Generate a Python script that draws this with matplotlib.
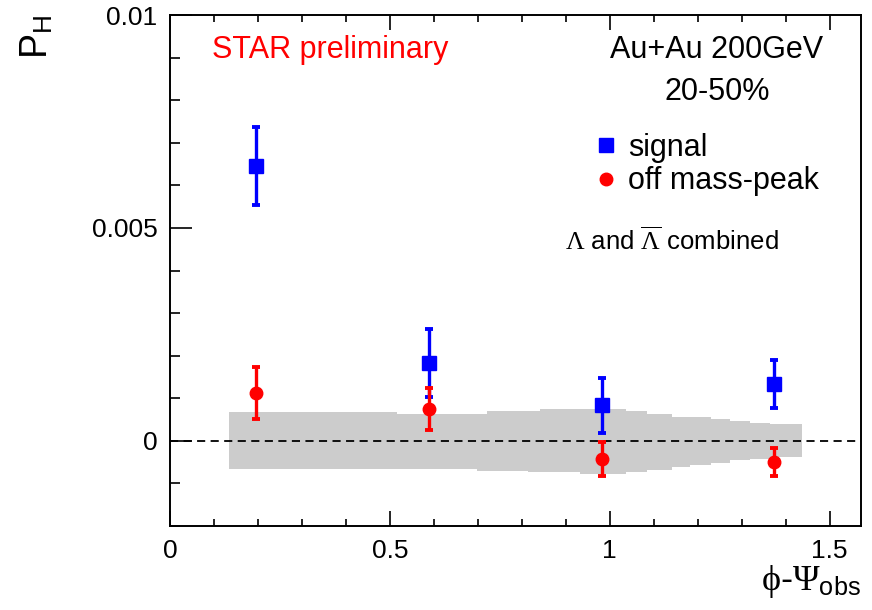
import matplotlib
matplotlib.use("Agg")
import matplotlib.pyplot as plt
from matplotlib.lines import Line2D
from matplotlib.ticker import MultipleLocator, FixedFormatter, FixedLocator

plt.rcParams["font.family"] = ["Liberation Sans", "DejaVu Sans"]
plt.rcParams["mathtext.fontset"] = "custom"
plt.rcParams["mathtext.rm"] = "Liberation Serif"
plt.rcParams["mathtext.it"] = "Liberation Serif"
plt.rcParams["mathtext.sf"] = "Liberation Sans"

# phi - Psi_obs bin centres
phi_bins = [0.196, 0.589, 0.982, 1.374]
# Lambda polarisation, signal region
sig = [6.45e-3, 1.83e-3, 0.83e-3, 1.33e-3]
sig_err = [0.92e-3, 0.79e-3, 0.64e-3, 0.56e-3]
# off mass-peak (background) region
off = [1.13e-3, 0.75e-3, -0.42e-3, -0.50e-3]
off_err = [0.61e-3, 0.50e-3, 0.40e-3, 0.33e-3]

# grey systematic band (step shape)
band_edges = [0.134, 0.516, 0.698, 0.721, 0.814, 0.841, 0.932, 1.037, 1.085,
              1.141, 1.182, 1.230, 1.273, 1.319, 1.364, 1.437]
band_hi = [0.67e-3, 0.63e-3, 0.63e-3, 0.71e-3, 0.71e-3, 0.75e-3, 0.75e-3, 0.69e-3,
           0.64e-3, 0.57e-3, 0.57e-3, 0.52e-3, 0.47e-3, 0.43e-3, 0.40e-3]
band_lo = [-0.65e-3, -0.65e-3, -0.70e-3, -0.70e-3, -0.74e-3, -0.74e-3, -0.78e-3, -0.73e-3,
           -0.68e-3, -0.62e-3, -0.57e-3, -0.52e-3, -0.46e-3, -0.42e-3, -0.39e-3]

y_ticks = [0, 0.005, 0.01]
y_ticklabels = ["0", "0.005", "0.01"]
x_ticks = [0, 0.5, 1, 1.5]
x_ticklabels = ["0", "0.5", "1", "1.5"]

fig = plt.figure(figsize=(8.72, 6.10), dpi=100)
ax = fig.add_axes([0.195, 0.1377, 0.792, 0.8377])

ax.stairs(band_hi, band_edges, baseline=band_lo, fill=True, color="#cccccc", lw=0, zorder=1)
ax.axhline(0, color="k", lw=1.3, ls=(0, (4.5, 3)), zorder=2)

ax.errorbar(phi_bins, sig, yerr=sig_err, fmt="s", ms=10.5, color="#0000ff", ecolor="#0000ff",
            elinewidth=2.4, capsize=3, capthick=2.8, zorder=3)
ax.errorbar(phi_bins, off, yerr=off_err, fmt="o", ms=9, color="#ff0000", ecolor="#ff0000",
            elinewidth=2.4, capsize=3, capthick=2.8, zorder=4)

ax.set_xlim(0, 1.5708)
ax.set_ylim(-0.002, 0.01)
ax.yaxis.set_major_locator(FixedLocator(y_ticks))
ax.yaxis.set_major_formatter(FixedFormatter(y_ticklabels))
ax.yaxis.set_minor_locator(MultipleLocator(0.001))
ax.xaxis.set_major_locator(FixedLocator(x_ticks))
ax.xaxis.set_major_formatter(FixedFormatter(x_ticklabels))
ax.xaxis.set_minor_locator(MultipleLocator(0.1))

ax.tick_params(axis="x", which="both", direction="in", top=True, labelsize=19, pad=9, width=1.2)
ax.tick_params(axis="x", which="major", length=11)
ax.tick_params(axis="x", which="minor", length=5)
ax.tick_params(axis="y", which="both", direction="in", right=False, labelsize=19, pad=9, width=1.2)
ax.tick_params(axis="y", which="major", length=16)
ax.tick_params(axis="y", which="minor", length=7.5)
for s in ax.spines.values():
    s.set_linewidth(1.4)

ax.set_ylabel(r"P$_{\mathsf{H}}$", fontsize=27, loc="top")
ax.yaxis.set_label_coords(-0.166, 1.0)
ax.set_xlabel(r"$\phi$-$\Psi_{\mathsf{obs}}$", fontsize=26, loc="right", va="top")
ax.xaxis.set_label_coords(1.0, -0.072)

ax.text(0.061, 0.915, "STAR preliminary", color="#ff0000", fontsize=22, transform=ax.transAxes)
ax.text(0.792, 0.915, "Au+Au 200GeV", ha="center", fontsize=22, transform=ax.transAxes)
ax.text(0.792, 0.834, "20-50%", ha="center", fontsize=22, transform=ax.transAxes)
ax.text(0.5716, 0.540, r"$\Lambda$ and $\overline{\Lambda}$ combined", fontsize=18.5,
        transform=ax.transAxes)

handles = [Line2D([], [], ls="none", marker="s", ms=10.5, color="#0000ff"),
           Line2D([], [], ls="none", marker="o", ms=9, color="#ff0000")]
ax.legend(handles, ["signal", "off mass-peak"], loc="upper left", bbox_to_anchor=(0.619, 0.77),
          frameon=False, fontsize=22, handlelength=0.55, handletextpad=0.45,
          labelspacing=0.12, borderpad=0, borderaxespad=0)

fig.savefig("out.png", dpi=100)
